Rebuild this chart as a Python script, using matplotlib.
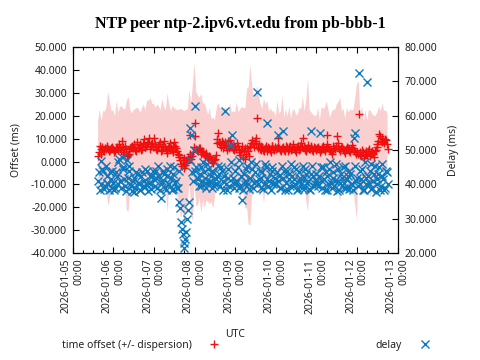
import matplotlib
matplotlib.use("Agg")
import matplotlib.pyplot as plt
import matplotlib.dates as mdates
from matplotlib.lines import Line2D
from matplotlib.ticker import FormatStrFormatter
import numpy as np
import pandas as pd

plt.rcParams['font.family'] = ['Noto Sans', 'DejaVu Sans']

title = "NTP peer ntp-2.ipv6.vt.edu from pb-bbb-1"
start_time = "2026-01-05 15:00"
start_time_half = "2026-01-05 15:30"

# hourly samples (offset, dispersion, delay)
offset = [
    2.6, 6.8, 3.5, 5.2, 5.8, 6.2, 5.5, 5.0, 6.0,
    5.5, 4.8, 6.5, 5.2, 6.0, 9.2, 4.0, 6.8, 2.6, 3.2, 5.8, 7.0, 6.5, 5.0, 8.5,
    6.0, 7.2, 5.5, 9.8, 6.5, 7.8, 10.5, 6.8, 8.2,
    10.2, 6.5, 5.0, 7.8, 4.5, 6.2, 8.8, 5.5, 3.8, 7.0, 6.0, 4.2, 8.5, 5.8, 3.5,
    1.8, -1.0, 0.5, -2.8, -0.5, 2.0, 11.4, 1.0, 4.0,
    16.8, 5.5, 4.8, 6.0, 3.5, 4.2, 2.5, 3.0, 1.5, 2.2, 0.5, -0.8, 1.2, 8.0, 12.7,
    7.5, 9.0, 6.0, 8.5, 5.2, 7.0, 9.5, 6.5, 5.0,
    6.5, 8.0, 5.5, 3.0, 6.8, 4.5, 1.3, 5.8, 2.5, 7.0, 9.5, 6.5, 10.5, 19.0, 7.5,
    5.0, 6.2, 4.5, 7.0, 5.5, 6.0, 4.2, 6.8, 5.0,
    5.5, 10.5, 6.0, 4.8, 6.5, 5.2, 7.0, 4.5, 6.2, 5.0, 7.5, 5.8, 4.2, 6.8, 5.5,
    8.0, 10.5, 6.0, 4.8, 7.2, 5.5, 6.5, 4.5, 6.0,
    5.0, 6.5, 4.0, 5.8, 7.0, 4.5, 11.4, 6.0, 5.2, 3.5, 6.8, 5.5, 11.0, 7.0, 4.8,
    6.2, 5.0, 3.8, 6.5, 5.5, 4.0, 7.2, 5.0, 4.5,
    4.0, 21.0, 3.0, 5.2, 1.5, 4.5, 2.8, 5.5, 3.2, 4.8, 2.0, 5.0, 7.5, 12.0, 9.0,
    10.5, 8.0, 9.5, 5.7,
]

dispersion = [
    15, 16, 14, 17, 16, 18, 25, 21, 16,
    17, 15, 20, 16, 18, 15, 19, 16, 24, 25, 17, 14, 16, 18, 15,
    17, 14, 18, 15, 16, 19, 16, 21, 17,
    15, 17, 20, 16, 18, 21, 15, 17, 26, 18, 16, 20, 15, 17, 19,
    21, 24, 22, 25, 23, 21, 20, 24, 30,
    26, 25, 24, 22, 26, 21, 23, 20, 19, 21, 18, 20, 17, 15, 13,
    16, 14, 17, 15, 18, 14, 16, 15, 17,
    15, 18, 16, 20, 17, 19, 22, 26, 30, 35, 24, 21, 19, 14, 22,
    20, 17, 23, 18, 21, 16, 19, 15, 17,
    14, 16, 15, 17, 22, 14, 16, 15, 18, 14, 15, 17, 16, 14, 18,
    15, 18, 16, 22, 29, 17, 15, 16, 14,
    15, 17, 14, 18, 16, 19, 15, 17, 14, 18, 16, 17, 14, 19, 23,
    16, 18, 15, 17, 16, 19, 15, 18, 24,
    30, 14, 17, 19, 16, 18, 15, 17, 19, 16, 18, 15, 14, 12, 13,
    15, 14, 13, 15,
]

delay = [
    41.0, 38.5, 46.8, 44.0, 39.5, 42.5, 40.0, 43.5, 39.0,
    40.5, 39.0, 42.5, 46.5, 41.0, 48.0, 45.0, 39.5, 47.0, 44.0, 40.0, 38.2, 42.0, 39.0, 43.0,
    40.0, 38.5, 43.5, 41.0, 39.2, 44.0, 40.5, 38.8, 42.5,
    41.5, 44.0, 39.0, 42.5, 36.0, 40.5, 43.0, 38.5, 44.5, 40.0, 42.0, 38.8, 45.0, 41.0, 39.0,
    35.0, 29.0, 25.5, 21.6, 26.0, 32.5, 56.4, 54.3, 41.0,
    62.8, 45.0, 41.5, 43.0, 39.5, 46.5, 42.0, 40.5, 44.5, 41.0, 39.0, 43.5, 40.0, 42.5, 45.5,
    39.5, 44.0, 41.0, 61.4, 38.5, 42.0, 51.4, 54.3, 40.5,
    44.0, 41.0, 47.0, 39.5, 35.6, 43.0, 40.0, 45.5, 38.8, 42.0, 44.5, 40.5, 46.0, 67.0, 41.5,
    39.0, 43.5, 40.0, 45.0, 57.8, 41.0, 38.5, 44.0, 40.5,
    40.0, 54.3, 42.5, 39.0, 55.5, 44.0, 40.5, 38.5, 43.0, 46.0, 39.5, 41.5, 44.5, 38.8, 42.0,
    40.0, 45.5, 39.0, 43.0, 41.0, 38.5, 55.5, 42.5, 40.0,
    43.0, 39.5, 54.9, 41.0, 45.0, 38.5, 42.5, 40.0, 46.5, 39.0, 43.5, 41.0, 38.2, 44.5, 40.5,
    42.0, 39.0, 45.5, 41.5, 38.8, 43.0, 40.0, 53.5, 54.9,
    42.0, 72.5, 40.0, 44.5, 38.5, 42.0, 69.8, 40.5, 46.0, 39.0, 43.0, 37.8, 41.5, 45.0, 39.5,
    42.5, 38.5, 44.0, 40.0,
]

# half-hour samples (offset, delay)
offset_half = [
    4.0, 5.5, 6.5, 4.8, 5.5, 6.8, 4.5, 5.8, 6.5,
    4.2, 6.0, 5.5, 7.5, 5.0, 6.5, 3.5, 5.5, 2.8, 4.5, 6.5, 5.8, 7.5, 4.5, 6.0,
    7.5, 5.0, 8.0, 6.5, 7.0, 8.5, 5.5, 7.5, 6.5,
    7.5, 5.5, 6.8, 8.5, 5.0, 7.0, 6.5, 4.5, 6.0, 8.0, 5.0, 6.5, 7.0, 4.5, 3.0,
    0.5, -2.0, 1.5, -1.5, 0.0, 1.0, 3.5, 2.5, 6.5,
    11.0, 5.0, 5.8, 4.0, 4.8, 3.2, 3.8, 2.0, 2.5, 1.0, 0.0, 0.8, 3.0, 10.0, 8.5,
    6.5, 8.0, 7.2, 6.5, 8.8, 6.0, 7.5, 5.5, 7.0,
    5.5, 7.0, 4.0, 5.0, 2.0, 6.0, 3.5, 4.5, 6.5, 8.0, 7.5, 9.0, 8.0, 6.0, 5.5,
    6.8, 5.2, 6.0, 4.8, 6.5, 5.0, 7.0, 5.5, 6.2,
    6.0, 7.0, 5.0, 5.8, 6.0, 4.5, 6.5, 5.5, 7.0, 5.5, 6.0, 5.0, 6.5, 5.0, 7.0,
    6.5, 6.8, 5.2, 6.0, 5.5, 6.8, 5.0, 6.2, 5.5,
    6.0, 5.5, 5.0, 6.5, 5.5, 6.0, 7.5, 5.5, 4.5, 5.0, 6.0, 7.0, 8.0, 5.5, 6.0,
    5.5, 4.5, 5.5, 6.0, 4.8, 5.5, 6.0, 4.0, 3.5,
    3.5, 4.0, 2.5, 4.0, 3.0, 3.5, 4.5, 2.5, 4.0, 3.5, 4.5, 6.5, 9.0, 11.0, 8.5,
    9.0, 10.0, 7.5,
]

delay_half = [
    43.5, 40.0, 44.5, 38.8, 45.5, 40.5, 38.5, 41.5, 44.0,
    38.5, 43.5, 40.0, 47.5, 39.0, 44.5, 41.5, 38.0, 42.0, 45.5, 39.5, 41.0, 37.8, 43.5, 40.5,
    38.5, 42.5, 39.5, 44.5, 40.0, 38.0, 42.5, 40.0, 44.0,
    39.5, 42.0, 45.5, 38.5, 41.0, 44.0, 39.0, 42.5, 40.0, 45.5, 38.5, 43.0, 40.5, 39.0, 44.0,
    33.0, 27.0, 23.0, 24.0, 30.0, 35.0, 47.0, 43.5, 50.0,
    44.0, 42.0, 39.5, 45.0, 41.0, 43.5, 39.0, 46.0, 40.5, 42.5, 44.0, 39.5, 41.5, 40.0, 43.0,
    45.0, 38.5, 42.5, 40.0, 44.5, 39.5, 46.5, 42.0, 39.0,
    40.5, 45.0, 39.0, 42.5, 38.5, 41.0, 44.5, 40.0, 42.0, 46.5, 39.0, 43.5, 41.0, 40.0, 44.0,
    42.0, 38.8, 46.0, 41.5, 39.5, 43.0, 45.0, 40.0, 42.0,
    43.5, 41.0, 39.0, 45.5, 42.0, 38.5, 44.0, 41.5, 39.5, 42.5, 45.0, 40.0, 38.5, 43.5, 41.0,
    39.0, 42.0, 44.5, 40.5, 38.8, 43.0, 45.5, 39.5, 41.0,
    40.0, 42.5, 45.0, 39.0, 41.5, 43.5, 38.5, 44.5, 40.5, 42.0, 39.5, 46.0, 41.0, 38.5, 43.0,
    45.0, 40.5, 39.0, 42.5, 44.0, 40.0, 38.5, 45.5, 41.0,
    39.5, 44.0, 41.5, 38.5, 46.5, 40.0, 42.5, 44.0, 38.8, 41.0, 45.5, 40.0, 43.0, 38.5, 46.0,
    41.5, 39.0, 43.5,
]

offset_ticks = [-40, -30, -20, -10, 0, 10, 20, 30, 40, 50]
delay_ticks = [20, 30, 40, 50, 60, 70, 80]
x_start = "2026-01-05 00:00"
x_end = "2026-01-13 00:00"

times = pd.date_range(start_time, periods=len(offset), freq="h")
times_half = pd.date_range(start_time_half, periods=len(offset_half), freq="h")
off = np.array(offset)
disp = np.array(dispersion)

fig = plt.figure(figsize=(4.8, 3.6), dpi=100)
ax = fig.add_axes([0.1515, 0.297, 0.677, 0.572])

red = '#f01010'
blue = '#0b79bd'
mk = dict(linestyle='none', markersize=6, markeredgewidth=1.0, zorder=3)

ax.fill_between(times, off - disp, off + disp, facecolor='#f9d0cf', edgecolor='none', zorder=1)
ax.plot(times, off, marker='+', color=red, **mk)
ax.plot(times_half, offset_half, marker='+', color=red, **mk)

ax.set_ylim(-40, 50)
ax.set_yticks(offset_ticks)
ax.yaxis.set_major_formatter(FormatStrFormatter('%.3f'))
ax.set_xlim(pd.Timestamp(x_start), pd.Timestamp(x_end))
ax.xaxis.set_major_locator(mdates.DayLocator())
ax.xaxis.set_minor_locator(mdates.HourLocator(byhour=[0, 6, 12, 18]))
ax.xaxis.set_major_formatter(mdates.DateFormatter('%Y-%m-%d\n%H:%M'))

ax2 = ax.twinx()
ax2.plot(times, delay, marker='x', color=blue, **mk)
ax2.plot(times_half, delay_half, marker='x', color=blue, **mk)
ax2.set_ylim(20, 80)
ax2.set_yticks(delay_ticks)
ax2.yaxis.set_major_formatter(FormatStrFormatter('%.3f'))

fs = 7.5
ax.tick_params(axis='y', which='both', direction='in', left=True, right=False, length=4.5, width=0.8, labelsize=fs, pad=4, colors='black', labelcolor='#222222')
ax.tick_params(axis='x', which='major', direction='in', top=True, bottom=True, length=4.5, width=0.8, labelsize=fs, pad=4, labelcolor='#222222')
ax.tick_params(axis='x', which='minor', direction='in', top=True, bottom=True, length=2.5, width=0.8)
ax2.tick_params(axis='y', which='both', direction='in', left=False, right=True, length=4.5, width=0.8, labelsize=fs, pad=5, labelcolor='#222222')

for lab in ax.get_xticklabels():
    lab.set_rotation(90)
    lab.set_ha('center')
    lab.set_va('top')
    lab.set_multialignment('right')

for a in (ax, ax2):
    for s in a.spines.values():
        s.set_linewidth(0.8)

ax.set_ylabel('Offset (ms)', fontsize=fs, color='#222222', labelpad=7)
ax2.set_ylabel('Delay (ms)', fontsize=fs, color='#222222', rotation=90, labelpad=8)

fig.text(0.49, 0.07, 'UTC', fontsize=fs, ha='center', va='center', color='#222222')
fig.suptitle(title, x=0.5, y=0.955, fontsize=11.5, fontweight='bold', family='Liberation Serif')

h1 = Line2D([], [], linestyle='none', marker='+', color=red, markersize=6, markeredgewidth=1.0)
h2 = Line2D([], [], linestyle='none', marker='x', color=blue, markersize=6, markeredgewidth=1.0)
fig.legend([h1, h2], ['time offset (+/- dispersion)', 'delay'], loc='center',
           bbox_to_anchor=(0.5125, 0.04), ncol=2, frameon=False, markerfirst=False,
           fontsize=fs, handlelength=1.0, handletextpad=1.7, columnspacing=15,
           labelcolor='#222222')

fig.savefig('out.png', dpi=100)
